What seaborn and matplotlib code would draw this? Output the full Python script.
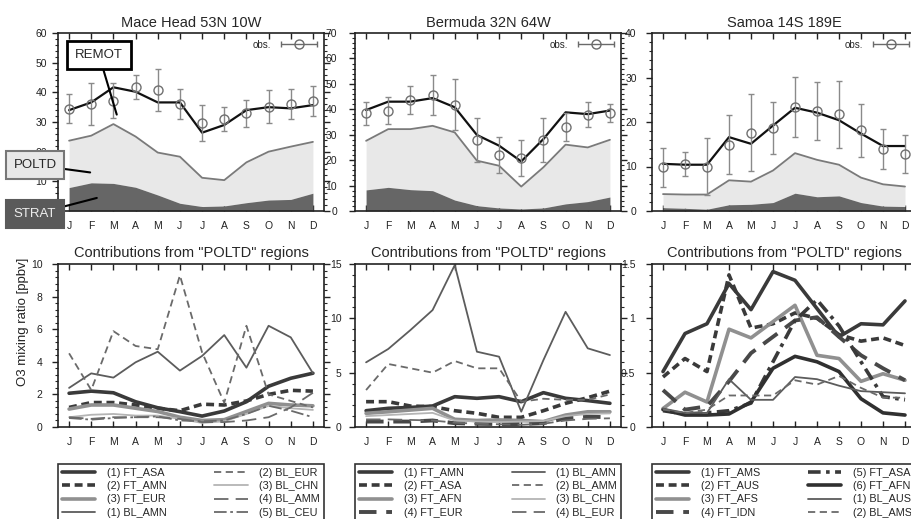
"""
Seasonal O3 at three remote sites: model tagged contributions vs. observations
"""

import numpy as np
import pandas as pd
import seaborn as sns
import matplotlib.pyplot as plt
from matplotlib.ticker import AutoMinorLocator, MultipleLocator
from matplotlib.container import ErrorbarContainer
from matplotlib.legend_handler import HandlerErrorbar
from matplotlib.lines import Line2D
from matplotlib.collections import LineCollection

sns.set_theme(style="ticks")
plt.rcParams['font.family'] = ['Liberation Sans', 'DejaVu Sans']

# --- data -------------------------------------------------------------------
months = ['J', 'F', 'M', 'A', 'M', 'J', 'J', 'A', 'S', 'O', 'N', 'D']
month_idx = np.arange(1, 13)

sites = ['Mace Head 53N 10W', 'Bermuda 32N 64W', 'Samoa 14S 189E']
top_ymax = [60, 70, 40]

# Mace Head
mh_obs = [34.4, 36.0, 37.2, 41.9, 40.8, 36.0, 29.6, 31.0, 32.9, 35.2, 36.0, 37.0]
mh_err = [4.9, 7.0, 6.0, 4.0, 7.2, 5.0, 6.0, 4.0, 4.5, 5.5, 5.0, 5.0]
mh_total = [34.0, 36.6, 41.7, 40.2, 36.6, 36.6, 26.4, 29.0, 34.0, 35.0, 34.6, 35.7]
mh_poltd = [23.7, 25.4, 29.3, 25.1, 19.7, 18.3, 11.2, 10.4, 16.4, 20.0, 21.7, 23.3]
mh_strat = [7.9, 9.5, 9.3, 8.0, 5.4, 2.6, 1.5, 1.7, 2.8, 3.7, 3.9, 6.0]

# Bermuda
bm_obs = [38.4, 39.4, 43.6, 45.6, 41.8, 27.9, 22.0, 20.8, 27.9, 32.9, 37.9, 38.4]
bm_err = [4.6, 5.3, 5.6, 8.0, 10.0, 8.7, 7.0, 7.0, 8.6, 5.5, 5.0, 3.5]
bm_total = [39.7, 43.0, 43.0, 44.4, 40.8, 29.9, 25.7, 19.5, 28.3, 38.8, 38.1, 39.5]
bm_poltd = [27.6, 32.2, 32.2, 33.5, 30.9, 19.8, 17.8, 9.6, 17.2, 26.1, 25.0, 28.0]
bm_strat = [8.3, 9.3, 8.4, 8.0, 4.3, 2.1, 1.2, 0.8, 1.2, 2.8, 3.7, 5.5]

# Samoa
sm_obs = [9.8, 10.6, 10.0, 14.9, 17.6, 18.6, 23.4, 22.4, 21.7, 18.1, 14.0, 12.8]
sm_err = [4.3, 2.7, 6.5, 6.6, 8.7, 5.9, 6.7, 6.5, 7.6, 6.0, 4.5, 4.2]
sm_total = [10.6, 10.4, 10.4, 16.6, 15.1, 19.2, 23.2, 22.1, 20.4, 17.4, 14.6, 14.6]
sm_poltd = [3.8, 3.7, 3.7, 6.9, 6.6, 9.1, 13.0, 11.5, 10.4, 7.5, 6.0, 5.5]
sm_strat = [0.75, 0.6, 0.4, 1.4, 1.5, 1.9, 4.0, 3.2, 3.4, 1.9, 1.1, 1.0]

# Contributions from "POLTD" regions
mh_regions = {
    '(1) FT_ASA': [2.07, 2.2, 2.1, 1.55, 1.18, 0.94, 0.67, 0.98, 1.55, 2.5, 2.99, 3.3],
    '(2) FT_AMN': [1.2, 1.5, 1.5, 1.35, 1.15, 1.0, 1.4, 1.35, 1.6, 2.0, 2.25, 2.2],
    '(3) FT_EUR': [1.1, 1.35, 1.35, 1.15, 0.95, 0.6, 0.4, 0.45, 0.95, 1.45, 1.35, 1.3],
    '(1) BL_AMN': [2.4, 3.29, 3.03, 3.97, 4.62, 3.46, 4.36, 5.64, 3.64, 6.21, 5.5, 3.3],
    '(2) BL_EUR': [4.52, 2.27, 5.88, 4.97, 4.77, 9.3, 4.58, 1.49, 6.21, 2.0, 1.6, 1.2],
    '(3) BL_CHN': [0.6, 0.75, 0.8, 0.7, 0.7, 0.5, 0.25, 0.35, 0.8, 1.3, 1.15, 1.05],
    '(4) BL_AMM': [0.6, 0.5, 0.6, 0.6, 0.6, 0.5, 0.3, 0.3, 0.4, 0.6, 1.2, 2.1],
    '(5) BL_CEU': [0.55, 0.45, 0.55, 0.6, 0.65, 0.4, 0.35, 0.4, 0.8, 1.3, 1.0, 0.6],
}
bm_regions = {
    '(1) FT_AMN': [1.5, 1.72, 1.8, 1.93, 2.79, 2.64, 2.79, 2.33, 3.16, 2.64, 2.43, 2.18],
    '(2) FT_ASA': [2.33, 2.33, 1.93, 1.87, 1.5, 1.26, 0.89, 0.89, 1.5, 2.18, 2.7, 3.3],
    '(3) FT_AFN': [1.26, 1.4, 1.56, 1.72, 0.71, 0.6, 0.65, 0.6, 0.5, 1.1, 1.4, 1.4],
    '(4) FT_EUR': [0.5, 0.5, 0.5, 0.6, 0.35, 0.3, 0.27, 0.27, 0.35, 0.8, 0.95, 0.9],
    '(1) BL_AMN': [5.95, 7.18, 8.92, 10.76, 14.9, 6.93, 6.47, 1.41, 6.16, 10.6, 7.24, 6.62],
    '(2) BL_AMM': [3.4, 5.8, 5.4, 5.0, 6.07, 5.4, 5.4, 2.33, 2.6, 2.5, 2.5, 3.0],
    '(3) BL_CHN': [1.0, 1.1, 1.2, 1.3, 0.6, 0.5, 0.45, 0.5, 0.55, 1.0, 1.2, 1.25],
    '(4) BL_EUR': [0.7, 0.7, 0.65, 0.6, 0.4, 0.3, 0.25, 0.2, 0.3, 0.6, 0.75, 0.8],
}
sm_regions = {
    '(1) FT_AMS': [0.51, 0.86, 0.95, 1.32, 1.08, 1.43, 1.35, 1.09, 0.83, 0.95, 0.94, 1.16],
    '(2) FT_AUS': [0.46, 0.63, 0.51, 1.40, 0.91, 0.95, 1.05, 1.0, 0.85, 0.79, 0.82, 0.75],
    '(3) FT_AFS': [0.17, 0.32, 0.23, 0.90, 0.82, 0.97, 1.12, 0.66, 0.63, 0.42, 0.49, 0.43],
    '(4) FT_IDN': [0.34, 0.16, 0.19, 0.42, 0.68, 0.83, 0.98, 1.01, 0.83, 0.66, 0.54, 0.43],
    '(5) FT_ASA': [0.15, 0.12, 0.13, 0.15, 0.22, 0.6, 0.98, 1.17, 0.93, 0.6, 0.28, 0.25],
    '(6) FT_AFN': [0.16, 0.11, 0.11, 0.12, 0.23, 0.54, 0.65, 0.6, 0.51, 0.26, 0.13, 0.11],
    '(1) BL_AUS': [0.17, 0.13, 0.13, 0.44, 0.25, 0.25, 0.46, 0.44, 0.38, 0.33, 0.32, 0.31],
    '(2) BL_AMS': [0.16, 0.13, 0.16, 0.29, 0.29, 0.29, 0.43, 0.39, 0.47, 0.36, 0.27, 0.27],
}
bottom_ymax = [10, 15, 1.5]
bottom_major = [2, 5, 0.5]

top_data = [
    (mh_obs, mh_err, mh_total, mh_poltd, mh_strat),
    (bm_obs, bm_err, bm_total, bm_poltd, bm_strat),
    (sm_obs, sm_err, sm_total, sm_poltd, sm_strat),
]
region_data = [mh_regions, bm_regions, sm_regions]

# line styles per tag type / index
line_styles = {
    'FT1': dict(color='#3a3a3a', lw=2.6, linestyle='-'),
    'FT2': dict(color='#3a3a3a', lw=2.6, linestyle=(0, (2.2, 1.3))),
    'FT3': dict(color='#909090', lw=2.6, linestyle='-'),
    'FT4': dict(color='#484848', lw=2.8, linestyle=(0, (4.5, 2.5))),
    'FT5': dict(color='#3a3a3a', lw=2.6, linestyle=(0, (3.5, 1.5, 1, 1.5))),
    'FT6': dict(color='#303030', lw=2.6, linestyle='-'),
    'BL1': dict(color='#5c5c5c', lw=1.3, linestyle='-'),
    'BL2': dict(color='#6a6a6a', lw=1.3, linestyle=(0, (4, 2.5))),
    'BL3': dict(color='#b4b4b4', lw=1.3, linestyle='-'),
    'BL4': dict(color='#6a6a6a', lw=1.3, linestyle=(0, (8, 4))),
    'BL5': dict(color='#6a6a6a', lw=1.3, linestyle=(0, (7, 2, 1.5, 2))),
}

# --- figure -----------------------------------------------------------------
W, H = 912, 519
fig = plt.figure(figsize=(W / 100, H / 100), dpi=100)


def px_axes(left, top, right, bottom):
    return fig.add_axes([left / W, (H - bottom) / H, (right - left) / W, (bottom - top) / H])


lefts = [58, 355, 652]
rights = [324, 621, 916]
top_pads = [4, 9, 7]
bottom_pads = [7, 5.5, 8]


def style_axes(ax, ymax, major, ypad):
    ax.set_xlim(0.5, 12.5)
    ax.set_ylim(0, ymax)
    ax.set_xticks(month_idx)
    ax.set_xticklabels(months)
    ax.yaxis.set_major_locator(MultipleLocator(major))
    ax.yaxis.set_minor_locator(AutoMinorLocator(5))
    ax.yaxis.set_major_formatter(lambda v, pos: f'{v:g}')
    ax.tick_params(axis='x', which='both', direction='in', top=True, bottom=True,
                   length=4, width=1, pad=7, labelsize=7.5, colors='#222222')
    ax.tick_params(axis='y', which='major', direction='out', left=True, right=True,
                   length=4, width=1, pad=ypad, labelsize=7.5, colors='#222222')
    ax.tick_params(axis='y', which='minor', direction='out', left=True, right=True,
                   length=2.5, width=0.8)
    for sp in ax.spines.values():
        sp.set_visible(True)
        sp.set_linewidth(1.2)
        sp.set_color('#222222')
    ax.grid(False)
    ax.set_xlabel('')
    ax.set_ylabel('')


# legend symbol for observations: circle with horizontal bar
obs_marker = Line2D([], [], ls='none', marker='o', mfc='none', mec='#6a6a6a', ms=6.5, mew=1)
obs_cap = Line2D([], [], ls='none', marker='|', color='#6a6a6a', ms=5, mew=1)
obs_bar = LineCollection([], colors='#6a6a6a', linewidths=1)
obs_handle = ErrorbarContainer((obs_marker, (obs_cap, obs_cap), (obs_bar,)),
                               has_xerr=True, has_yerr=False, label='obs.')

box_line = dict(arrowstyle='-', color='black', lw=1.5, shrinkA=0, shrinkB=0)

# top row: stacked contributions + obs
for i, (site, ymax) in enumerate(zip(sites, top_ymax)):
    ax = px_axes(lefts[i], 33, rights[i], 211)
    obs, err, total, poltd, strat = top_data[i]
    ax.fill_between(month_idx, strat, poltd, color='#e8e8e8', lw=0, zorder=1)
    ax.fill_between(month_idx, 0, strat, color='#666666', lw=0, zorder=1)
    sns.lineplot(x=month_idx, y=poltd, ax=ax, color='#7a7a7a', lw=1.3, errorbar=None, zorder=2)
    sns.lineplot(x=month_idx, y=total, ax=ax, color='#111111', lw=1.6, errorbar=None, zorder=3)
    ax.errorbar(month_idx, obs, yerr=err, fmt='o', mfc='none', mec='#707070', ms=6.5, mew=1,
                ecolor='#8a8a8a', elinewidth=1, capsize=2.5, zorder=4)
    ax.legend([obs_handle], ['obs.'], loc='upper right', frameon=False, markerfirst=False,
              fontsize=7, handlelength=3.8, handletextpad=1.0, borderaxespad=0.3,
              borderpad=0.4, handler_map={ErrorbarContainer: HandlerErrorbar(xerr_size=1.85)})
    style_axes(ax, ymax, 10, top_pads[i])
    ax.set_title(site, fontsize=10.5, pad=4)

    if i == 0:
        ax.annotate('REMOT', xy=(3.15, 32.5), xytext=(99, 464), textcoords='figure pixels',
                    ha='center', va='center', fontsize=9.5, zorder=10,
                    bbox=dict(boxstyle='square,pad=0.6', fc='white', ec='black', lw=2),
                    arrowprops=box_line)
        ax.annotate('POLTD', xy=(1.95, 13.0), xytext=(35, 354), textcoords='figure pixels',
                    ha='center', va='center', fontsize=9.5, zorder=10,
                    bbox=dict(boxstyle='square,pad=0.6', fc='#e8e8e8', ec='#777777', lw=1.5),
                    arrowprops=box_line)
        ax.annotate('STRAT', xy=(2.25, 4.4), xytext=(35, 305), textcoords='figure pixels',
                    ha='center', va='center', fontsize=9.5, color='#eeeeee', zorder=10,
                    bbox=dict(boxstyle='square,pad=0.6', fc='#5a5a5a', ec='#5a5a5a', lw=1.5),
                    arrowprops=box_line)

# bottom row: contributions from POLTD regions
for i in range(3):
    ax = px_axes(lefts[i], 264, rights[i], 427)
    for name, vals in region_data[i].items():
        key = name.split()[1][:2] + name[1]
        sns.lineplot(x=month_idx, y=vals, ax=ax, errorbar=None, label=name, **line_styles[key])
    style_axes(ax, bottom_ymax[i], bottom_major[i], bottom_pads[i])
    ax.set_title('Contributions from "POLTD" regions', fontsize=10.5, pad=5)
    leg = ax.legend(loc='upper left', bbox_to_anchor=(0, -0.227, 1, 0.0), mode='expand',
                    ncol=2, fontsize=7.8, frameon=True, fancybox=False, edgecolor='#333333',
                    framealpha=1, borderaxespad=0, borderpad=0.35, labelspacing=0.3,
                    handlelength=3.05, handletextpad=1.1)
    leg.get_frame().set_linewidth(1.2)

fig.text(0.025, 0.38, 'O3 mixing ratio [ppbv]', rotation=90, ha='center', va='center',
         fontsize=9.5, color='#222222')

fig.savefig('out.png', dpi=100)
